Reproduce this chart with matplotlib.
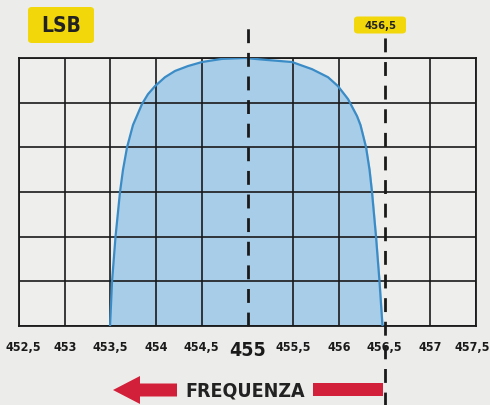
import matplotlib.pyplot as plt
from matplotlib.patches import FancyBboxPatch, FancyArrow

plt.rcParams['font.family'] = ['DejaVu Sans']
plt.rcParams['font.stretch'] = 'condensed'

# risposta del filtro LSB (kHz, quadretti)
freq = [453.496, 453.518, 453.556, 453.605, 453.638, 453.682, 453.747, 453.846,
        453.911, 453.988, 454.097, 454.207, 454.349, 454.502, 454.721, 454.973,
        455.19, 455.487, 455.706, 455.881, 455.99, 456.10, 456.198, 456.236,
        456.297, 456.335, 456.362, 456.406, 456.444, 456.477]
livello = [0.0, 1.0, 2.0, 3.0, 3.5, 4.0, 4.5, 4.97,
           5.19, 5.37, 5.57, 5.71, 5.82, 5.91, 5.98, 6.0,
           5.96, 5.91, 5.75, 5.57, 5.37, 5.08, 4.70, 4.5,
           4.0, 3.5, 3.0, 2.0, 1.0, 0.0]

tick_pos = [452.5, 453, 453.5, 454, 454.5, 455, 455.5, 456, 456.5, 457, 457.5]
tick_lab = ['452,5', '453', '453,5', '454', '454,5', '455', '455,5', '456', '456,5', '457', '457,5']

W, H = 490, 406
fig = plt.figure(figsize=(W / 100, H / 100), dpi=100)
fig.patch.set_facecolor('#ecedea')

x0, x1, y0, y1 = 19, 476, 59, 327
ax = fig.add_axes([x0 / W, 1 - y1 / H, (x1 - x0) / W, (y1 - y0) / H])
ax.set_facecolor('#eeefec')
ax.set_xlim(452.5, 457.5)
ax.set_ylim(0, 6)

ax.fill_between(freq, livello, 0, color='#a7cde9', zorder=1)
ax.plot(freq, livello, color='#3b8cc6', lw=1.6, zorder=3)

# griglia
for xv in tick_pos:
    if xv in (455, 456.5):
        continue
    ax.axvline(xv, color='#1a1a1a', lw=1.2, zorder=2)
for yv in range(7):
    ax.axhline(yv, color='#1a1a1a', lw=1.2, zorder=2)

# linee tratteggiate
ax.plot([455, 455], [0, 6.83], color='#1a1a1a', lw=2, ls=(0, (5, 3.5)),
        clip_on=False, zorder=4)
ax.plot([456.5, 456.5], [-1.8, 6.47], color='#1a1a1a', lw=2, ls=(0, (5, 3.5)),
        clip_on=False, zorder=4)

for s in ax.spines.values():
    s.set_linewidth(1.3)
    s.set_color('#1a1a1a')

ax.set_xticks([])
ax.set_yticks([])

# etichette dell'asse (455 più grande)
for i, (xv, t) in enumerate(zip(tick_pos, tick_lab)):
    dx = 0.0
    if i == 0:
        dx = 0.05
    elif i == len(tick_pos) - 1:
        dx = -0.04
    big = t == '455'
    ax.text(xv + dx, -0.53 if big else -0.45, t, ha='center', va='center',
            fontsize=14 if big else 9, fontweight='bold', color='#1a1a1a',
            clip_on=False)

# etichette gialle
def etichetta(xc, yc, w, h, testo, size):
    box = FancyBboxPatch(((xc - w / 2) / W, 1 - (yc + h / 2) / H), w / W, h / H,
                         boxstyle='round,pad=0,rounding_size=0.008',
                         transform=fig.transFigure, fc='#f2d70a', ec='none')
    fig.patches.append(box)
    fig.text(xc / W, 1 - yc / H, testo, ha='center', va='center',
             fontsize=size, fontweight='bold', color='#222222')

etichetta(61, 26, 66, 36, 'LSB', 15)
etichetta(380, 26, 52, 17, '456,5', 8)

# freccia FREQUENZA
rosso = '#d3203a'
fig.patches.append(FancyArrow(177 / W, 1 - 391 / H, -64 / W, 0, width=13 / H,
                              head_width=28 / H, head_length=27 / W,
                              length_includes_head=True, transform=fig.transFigure,
                              fc=rosso, ec='none'))
fig.patches.append(plt.Rectangle((313 / W, 1 - 397 / H), 70 / W, 13 / H,
                                 transform=fig.transFigure, fc=rosso, ec='none'))
fig.text(245 / W, 1 - 391 / H, 'FREQUENZA', ha='center', va='center',
         fontsize=14, fontweight='bold', color='#222222')

fig.savefig('out.png', dpi=100, facecolor=fig.get_facecolor())
